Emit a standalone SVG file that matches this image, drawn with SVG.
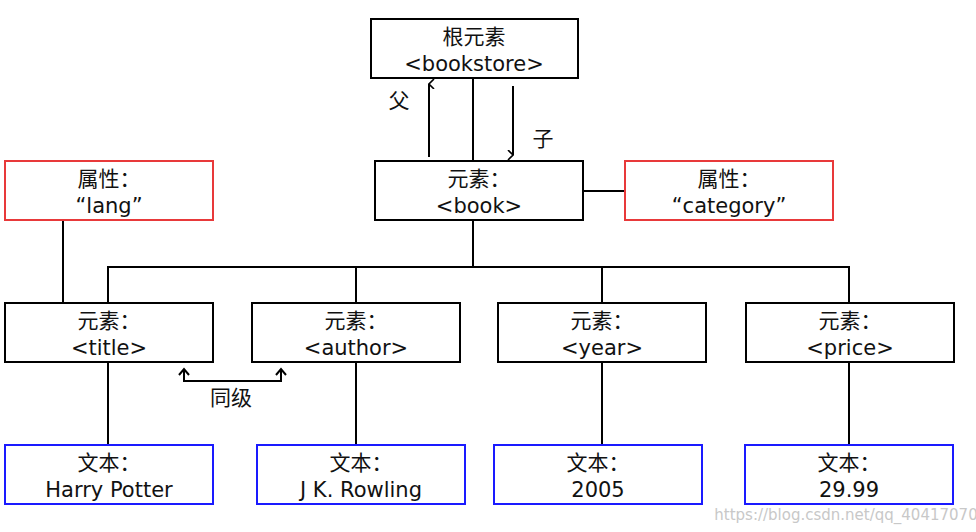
<svg xmlns="http://www.w3.org/2000/svg" width="976" height="532" viewBox="0 0 976 532">
<style>
.b{fill:#fff;stroke:#000;stroke-width:2}
.r{fill:#fff;stroke:#e8393a;stroke-width:2}
.u{fill:#fff;stroke:#1a1aff;stroke-width:2}
text{font-family:"DejaVu Sans","Noto Sans CJK SC",sans-serif;font-size:21px;fill:#111;text-anchor:middle}
.c line,.c path{stroke:#000;stroke-width:2;fill:none}
</style>
<defs>
<marker id="a" viewBox="0 0 10 10" refX="5" refY="1" markerWidth="10" markerHeight="10" orient="auto-start-reverse" markerUnits="userSpaceOnUse"><path d="M0,6 L5,1 L10,6" fill="none" stroke="#000" stroke-width="1.6"/></marker>
</defs>
<rect width="976" height="532" fill="#fff"/>
<g class="c">
<line x1="473" y1="78" x2="473" y2="161"/>
<line x1="429" y1="157" x2="429" y2="84" marker-end="url(#a)"/>
<line x1="513" y1="86" x2="513" y2="155" marker-end="url(#a)"/>
<line x1="583" y1="191" x2="625" y2="191"/>
<line x1="473" y1="220" x2="473" y2="267"/>
<path d="M108,303 V267 H849 V303 M356,267 V303 M602,267 V303"/>
<line x1="63" y1="220" x2="63" y2="303"/>
<line x1="108" y1="362" x2="108" y2="445"/>
<line x1="356" y1="362" x2="356" y2="445"/>
<line x1="602" y1="362" x2="602" y2="445"/>
<line x1="849" y1="362" x2="849" y2="445"/>
<path d="M184,370 V381 H281 V370"/>
<path d="M179,375 L184,369 L189,375 M276,375 L281,369 L286,375" stroke-width="1.6"/>
</g>
<text x="399" y="108">父</text>
<text x="543" y="146">子</text>
<text x="231" y="405">同级</text>
<g id="root"><rect class="b" x="371" y="19" width="207" height="59"/><text x="474" y="44">根元素</text><text x="474" y="71">&lt;bookstore&gt;</text></g>
<g id="book"><rect class="b" x="375" y="161" width="208" height="59"/><text x="479" y="186">元素：</text><text x="479" y="213">&lt;book&gt;</text></g>
<g id="lang"><rect class="r" x="5" y="161" width="208" height="59"/><text x="109" y="186">属性：</text><text x="109" y="213">“lang”</text></g>
<g id="category"><rect class="r" x="625" y="161" width="208" height="59"/><text x="729" y="186">属性：</text><text x="729" y="213">“category”</text></g>
<g id="title"><rect class="b" x="5" y="303" width="208" height="59"/><text x="109" y="328">元素：</text><text x="109" y="355">&lt;title&gt;</text></g>
<g id="author"><rect class="b" x="252" y="303" width="208" height="59"/><text x="356" y="328">元素：</text><text x="356" y="355">&lt;author&gt;</text></g>
<g id="year"><rect class="b" x="498" y="303" width="208" height="59"/><text x="602" y="328">元素：</text><text x="602" y="355">&lt;year&gt;</text></g>
<g id="price"><rect class="b" x="746" y="303" width="208" height="59"/><text x="850" y="328">元素：</text><text x="850" y="355">&lt;price&gt;</text></g>
<g id="t1"><rect class="u" x="5" y="445" width="208" height="59"/><text x="109" y="470">文本：</text><text x="109" y="497">Harry Potter</text></g>
<g id="t2"><rect class="u" x="257" y="445" width="208" height="59"/><text x="361" y="470">文本：</text><text x="361" y="497">J K. Rowling</text></g>
<g id="t3"><rect class="u" x="494" y="445" width="208" height="59"/><text x="598" y="470">文本：</text><text x="598" y="497">2005</text></g>
<g id="t4"><rect class="u" x="745" y="445" width="208" height="59"/><text x="849" y="470">文本：</text><text x="849" y="497">29.99</text></g>
<text x="846" y="520" style="font-size:15px;fill:#c8c8c8">https://blog.csdn.net/qq_40417070</text>
</svg>
